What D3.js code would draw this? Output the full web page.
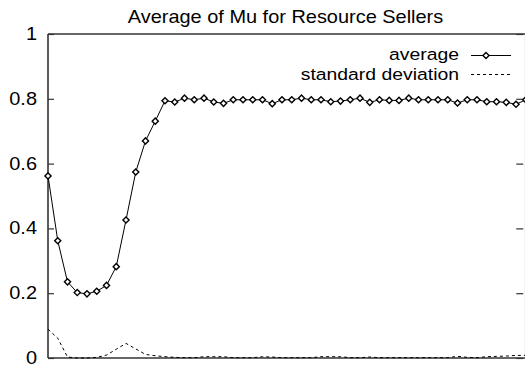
<!DOCTYPE html>
<html>
<head>
<meta charset="utf-8">
<script src="https://cdn.jsdelivr.net/npm/d3@7/dist/d3.min.js"></script>
<style>
  html, body { margin: 0; padding: 0; background: #fff; }
  svg { display: block; }
  text { font-family: "Liberation Sans", Arial, Helvetica, sans-serif; fill: #000; }
</style>
</head>
<body>
<div id="chart"></div>
<script>
// Generation index along the x axis (0..49)
const steps = d3.range(50);

// Average value of Mu across resource sellers
const averageMu = [
  0.562, 0.362, 0.235, 0.202, 0.198, 0.206, 0.224, 0.282, 0.426, 0.574,
  0.670, 0.731, 0.794, 0.790, 0.802, 0.797, 0.802, 0.790, 0.786, 0.797,
  0.797, 0.797, 0.797, 0.785, 0.797, 0.797, 0.802, 0.797, 0.797, 0.791,
  0.793, 0.797, 0.802, 0.789, 0.797, 0.795, 0.795, 0.802, 0.797, 0.797,
  0.797, 0.797, 0.787, 0.797, 0.797, 0.791, 0.791, 0.789, 0.783, 0.797
];

// Standard deviation of Mu across resource sellers
const stdDevMu = [
  0.089, 0.061, 0.003, 0.000, 0.000, 0.002, 0.009, 0.027, 0.045, 0.028,
  0.011, 0.007, 0.004, 0.002, 0.001, 0.001, 0.004, 0.004, 0.004, 0.001,
  0.001, 0.001, 0.004, 0.003, 0.001, 0.001, 0.001, 0.001, 0.004, 0.004,
  0.004, 0.001, 0.001, 0.003, 0.001, 0.001, 0.001, 0.001, 0.001, 0.001,
  0.001, 0.001, 0.005, 0.002, 0.001, 0.004, 0.005, 0.006, 0.008, 0.008
];

const yTicks = [0, 0.2, 0.4, 0.6, 0.8, 1];
const yTickLabels = ["0", "0.2", "0.4", "0.6", "0.8", "1"];

const chartTitle = "Average of Mu for Resource Sellers";
const seriesNames = ["average", "standard deviation"];

const W = 525, H = 367;
const plot = { left: 48, right: 525.75, top: 34, bottom: 358 };
const stretch = 1.14;   // text is set slightly wide
const fontPx = 17.5;

const svg = d3.select("#chart").append("svg")
  .attr("width", W).attr("height", H);

const x = d3.scaleLinear().domain([0, 49]).range([plot.left, plot.right]);
const y = d3.scaleLinear().domain([0, 1]).range([plot.bottom, plot.top]);

function wideText(g, tx, ty, str, anchor, size) {
  return g.append("text")
    .attr("transform", `translate(${tx},${ty}) scale(${stretch},1)`)
    .attr("text-anchor", anchor)
    .style("font-size", (size || fontPx) + "px")
    .text(str);
}

// Title
wideText(svg, 285.5, 23, chartTitle, "middle");

// Frame
const frame = svg.append("g").attr("stroke", "#333").attr("stroke-width", 1.6).attr("fill", "none");
frame.append("line").attr("x1", plot.left).attr("x2", plot.right + 2).attr("y1", plot.top).attr("y2", plot.top);
frame.append("line").attr("x1", plot.left).attr("x2", plot.right + 2).attr("y1", plot.bottom).attr("y2", plot.bottom);
frame.append("line").attr("x1", plot.left).attr("x2", plot.left).attr("y1", plot.top).attr("y2", plot.bottom);
frame.append("line").attr("x1", plot.right).attr("x2", plot.right).attr("y1", plot.top).attr("y2", plot.bottom);

// Left axis: inward ticks, labels outside
const yAxis = d3.axisRight(y).tickValues(yTicks).tickSize(6).tickFormat(() => "");
const yAxisG = svg.append("g").attr("transform", `translate(${plot.left},0)`).call(yAxis);
yAxisG.select(".domain").remove();
yAxisG.selectAll(".tick line").attr("stroke", "#333").attr("stroke-width", 1.2);

// Right mirror ticks pointing inward
const yAxisR = d3.axisLeft(y).tickValues(yTicks).tickSize(7).tickFormat(() => "");
const yAxisRG = svg.append("g").attr("transform", `translate(${plot.right - 2.5},0)`).call(yAxisR);
yAxisRG.select(".domain").remove();
yAxisRG.selectAll(".tick line").attr("stroke", "#333").attr("stroke-width", 1.2);

// Tick labels
yTicks.forEach((v, i) => {
  wideText(svg, 37, y(v) + 6, yTickLabels[i], "end");
});

// Series lines
const lineGen = vals => d3.line().x((d, i) => x(steps[i])).y(d => y(d))(vals);

svg.append("path")
  .attr("d", lineGen(stdDevMu))
  .attr("fill", "none").attr("stroke", "#000").attr("stroke-width", 1)
  .attr("stroke-dasharray", "3,3");

svg.append("path")
  .attr("d", lineGen(averageMu))
  .attr("fill", "none").attr("stroke", "#000").attr("stroke-width", 1);

const diamond = d3.symbol().type(d3.symbolDiamond2).size(24);
svg.append("g").selectAll("path")
  .data(averageMu)
  .join("path")
  .attr("transform", (d, i) => `translate(${x(steps[i])},${y(d)})`)
  .attr("d", diamond)
  .attr("fill", "#fff").attr("stroke", "#000").attr("stroke-width", 1.4);

// Legend
const legend = svg.append("g");
const legX1 = 471, legX2 = 511;
wideText(legend, 459, 60, seriesNames[0], "end", 17);
legend.append("line").attr("x1", legX1).attr("x2", legX2).attr("y1", 55.5).attr("y2", 55.5)
  .attr("stroke", "#000").attr("stroke-width", 1);
legend.append("path").attr("transform", `translate(${(legX1 + legX2) / 2 - 5},55.5)`)
  .attr("d", diamond).attr("fill", "#fff").attr("stroke", "#000").attr("stroke-width", 1.4);

wideText(legend, 459, 79.5, seriesNames[1], "end", 17);
legend.append("line").attr("x1", legX1).attr("x2", legX2).attr("y1", 74.5).attr("y2", 74.5)
  .attr("stroke", "#000").attr("stroke-width", 1).attr("stroke-dasharray", "3,3");
</script>
</body>
</html>
